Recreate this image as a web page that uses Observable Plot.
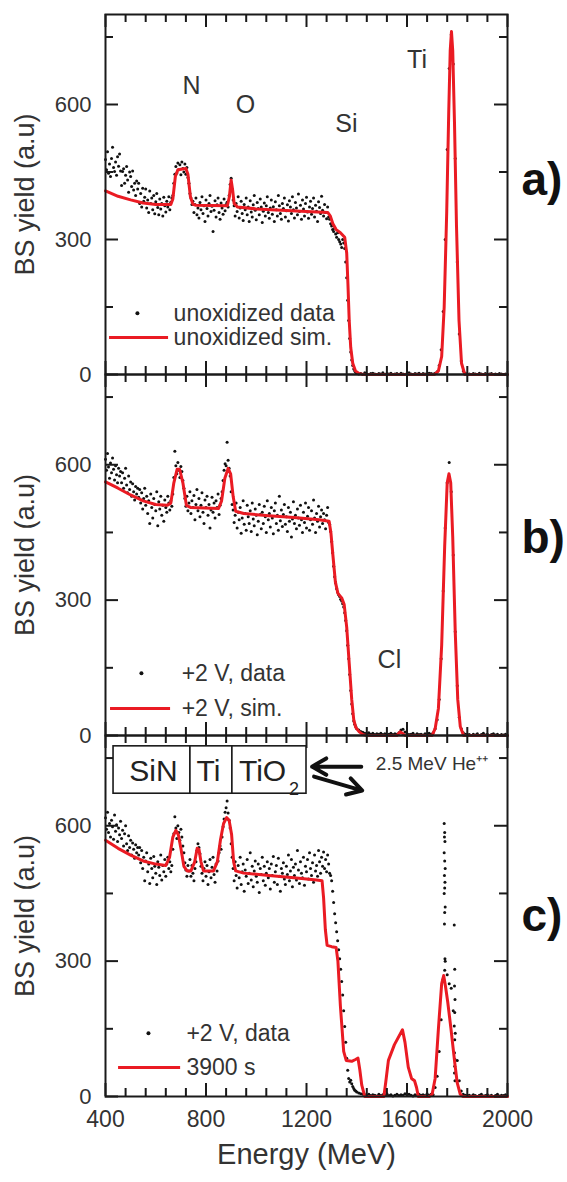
<!DOCTYPE html>
<html><head><meta charset="utf-8">
<script src="https://cdn.jsdelivr.net/npm/d3@7"></script>
<script src="https://cdn.jsdelivr.net/npm/@observablehq/plot@0.6"></script>
<style>
body{margin:0;background:#fff;}
#chart{width:567px;}
#chart svg{display:block;}
</style></head><body><div id="chart"></div>
<script>
// channel energies (MeV): 4 MeV channels up to 1400, 8 MeV channels above
const energy = d3.range(400, 1400, 4).concat(d3.range(1400, 2000, 8));

// panel a: unoxidized data
const dataA = [
478,455,495,447,468,440,480,505,460,451,472,443,484,463,490,452,
420,451,457,425,443,462,432,405,450,440,418,452,410,425,398,430,412,
425,380,402,372,414,385,394,412,370,388,360,408,380,392,366,398,357,384,402,371,355,390,368,380,352,394,375,361,385,372,395,366,383,392,
398,425,445,
462,448,470,455,466,444,472,458,450,468,445,460,438,
425,402,392,378,
385,360,378,392,355,370,348,382,366,395,358,375,340,388,369,352,380,398,362,374,318,365,386,350,377,392,360,345,381,370,356,390,364,378,383,372,
398,422,436,412,388,
375,352,380,362,395,348,370,385,358,342,378,366,392,355,372,340,386,361,350,377,
398,365,344,382,369,355,390,372,338,363,381,352,375,395,360,347,370,388,356,373,
340,384,366,352,398,375,358,345,380,369,392,350,364,377,341,386,372,358,395,366,
348,382,370,355,401,362,376,345,388,368,352,380,394,361,347,372,385,356,369,392,
350,376,363,340,384,371,358,396,365,352,378,360,346,372,
350,345,335,330,322,318,325,312,305,315,300,295,290,282,
300,292,280,250,215,165,120,80,50,32,20,12,8,5,
3,1,2,0,4,1,0,2,3,1,0,2,1,4,0,2,1,3,0,1,2,0,3,1,0,2,4,1,0,2,1,3,0,2,1,0,3,2,1,
3,6,20,55,140,300,500,680,755,690,480,250,90,30,8,3,1,
1,0,2,1,0,3,1,0,2,0,1,2,0,1,0,2,1,0,1];

// panel b: +2 V data
const dataB = [
612,588,625,595,570,604,582,615,590,566,598,578,560,592,575,585,
560,582,548,570,592,555,538,575,545,562,530,558,540,522,552,535,548,
528,545,515,538,502,525,548,510,530,492,520,470,535,505,482,525,512,498,540,465,518,502,530,488,510,475,522,505,495,530,515,500,520,508,
535,572,630,
598,580,605,588,572,596,585,565,
548,525,508,530,498,
515,540,492,520,505,532,478,512,545,498,525,485,510,538,495,470,522,505,530,488,512,460,500,528,495,515,482,520,505,535,490,510,525,
540,565,588,602,598,650,610,592,575,540,512,
500,472,488,515,460,495,478,505,448,482,520,468,492,455,510,485,470,498,452,515,480,465,502,488,445,475,512,490,458,495,
470,508,485,450,520,478,492,462,505,482,447,498,515,470,488,455,530,476,500,463,
490,512,468,485,452,505,475,495,440,480,518,470,488,458,502,482,466,510,478,450,
495,472,515,460,486,505,455,478,498,468,522,482,450,492,475,508,462,485,500,470,
492,478,458,488,505,472,
468,452,430,405,375,352,338,325,318,312,308,302,298,292,285,272,255,232,200,170,135,100,70,48,32,25,20,
15,12,9,7,5,4,6,3,5,2,4,3,5,2,4,1,3,5,2,4,3,6,12,14,8,4,2,3,5,1,4,2,3,1,4,2,5,3,6,
15,35,80,170,320,460,560,605,540,400,230,110,40,15,6,3,2,
2,0,3,1,4,0,2,5,1,3,0,2,4,1,3,0,2,1,3];

// panel c: +2 V data
const dataC = [
618,592,630,585,605,575,612,598,570,624,588,602,565,595,580,610,
572,590,555,582,600,560,545,578,552,568,535,562,548,528,558,540,552,
535,552,518,545,505,530,478,522,540,498,515,472,528,505,485,532,510,495,470,520,508,490,535,480,512,498,525,488,515,530,505,520,498,512,
548,582,620,
595,572,600,585,568,592,575,555,
540,518,502,488,512,
500,525,488,512,495,478,505,520,545,560,552,538,510,495,478,505,520,488,512,470,498,525,485,508,530,492,475,515,500,522,540,555,548,
575,598,615,630,640,655,628,612,595,560,530,
505,478,520,490,462,512,485,530,470,498,515,455,502,488,525,472,495,540,480,510,
465,500,522,488,475,515,452,505,492,530,478,510,468,495,520,485,505,460,515,490,
532,475,498,512,470,528,488,455,505,495,518,482,470,510,492,535,478,500,525,465,
508,490,515,480,545,502,472,520,495,485,530,468,510,498,525,482,540,505,490,518,
475,535,500,512,488,545,520,495,530,510,542,505,525,498,535,515,
495,490,478,455,430,405,385,365,345,325,305,282,255,225,190,155,120,85,58,40,32,36,28,22,18,14,12,
10,8,6,5,4,3,5,2,4,3,1,5,2,4,3,6,2,4,1,3,5,2,4,3,6,2,5,3,1,4,2,5,3,4,2,6,3,5,4,
20,45,100,170,260,300,270,250,240,190,140,80,35,12,5,3,2,
3,1,4,2,0,3,5,1,2,4,1,3,0,2,5,1,3,2,4];
// additional counts recorded in the Ti region of panel c
const tiClusterE = [1748,1750,1749,1751,1748,1750,1752,1749,1751,1750,1748,1752,1750,1749,1751,1750,1788,1790,1789,1791,1790,1788,1790,1789,1791,1790,1789,1791];
const tiClusterY = [605,585,575,565,540,522,505,490,475,462,450,420,408,382,305,280,380,282,245,215,186,156,126,97,82,67,52,35];

// simulations (vertices)
const simAE = [400,450,500,550,600,660,668,678,688,720,728,738,748,760,885,893,900,906,912,925,1000,1100,1200,1285,1295,1305,1318,1335,1352,1360,1365,1370,1376,1384,1395,1410,1428,1710,1725,1738,1748,1758,1766,1772,1777,1782,1789,1797,1807,1817,1830,2000];
const simAY = [408,396,388,381,378,378,390,440,455,458,445,395,378,376,375,395,432,410,380,372,368,365,362,360,352,335,322,315,305,270,200,120,60,25,8,2,0,0,8,40,150,360,580,720,762,720,560,330,120,25,0,0];
const simBE = [400,450,500,550,600,645,660,672,685,695,708,722,740,850,862,875,888,898,908,918,950,1050,1150,1250,1290,1297,1305,1315,1325,1340,1350,1360,1370,1380,1388,1396,1410,1425,1440,1560,1572,1582,1592,1700,1712,1725,1738,1750,1760,1767,1774,1782,1792,1802,1812,1825,2000];
const simBY = [562,548,533,520,512,510,515,560,590,590,560,510,505,503,520,570,592,580,530,497,492,487,483,478,475,450,400,340,315,305,290,240,160,80,35,18,8,2,0,0,8,5,0,0,15,60,200,420,560,580,560,440,230,80,20,0,0];
const simCE = [400,450,500,550,600,640,655,668,680,690,700,712,725,740,755,765,772,780,790,830,845,858,870,882,892,902,910,918,950,1050,1150,1240,1262,1268,1275,1282,1300,1318,1325,1335,1348,1358,1380,1395,1405,1412,1420,1432,1508,1515,1526,1550,1582,1592,1605,1618,1630,1638,1645,1690,1700,1712,1725,1738,1746,1753,1762,1775,1790,1800,1812,1822,2000];
const simCY = [568,550,535,522,515,512,530,575,590,580,550,510,500,500,520,550,548,520,500,500,520,570,605,618,612,580,520,500,495,490,485,480,478,440,370,335,332,330,300,200,100,80,78,82,85,60,25,0,0,30,80,115,148,120,65,40,35,20,0,0,5,40,150,250,268,245,210,150,75,30,5,0,0];

// ticks
const xMajor = [400, 800, 1200, 1600, 2000];
const xMinor = [480, 560, 640, 720, 880, 960, 1040, 1120, 1280, 1360, 1440, 1520, 1680, 1760, 1840, 1920];
const yMajor = [0, 300, 600];
const yMinor = [150, 450, 750];

// labels
const elemA = [{t:"N", e:742, y:642}, {t:"O", e:957, y:598}, {t:"Si", e:1359, y:556}, {t:"Ti", e:1640, y:698}];
const elemB = [{t:"Cl", e:1530, y:167}];
const legendA = {dot:"unoxidized data", line:"unoxidized sim.", dotE:527, dotY:136, lineE1:416, lineE2:651, lineY:82, textE:671};
const legendB = {dot:"+2 V, data", line:"+2 V, sim.", dotE:543, dotY:138, lineE1:420, lineE2:659, lineY:60, textE:703};
const legendC = {dot:"+2 V, data", line:"3900 s", dotE:571, dotY:140, lineE1:452, lineE2:699, lineY:64, textE:722};
const boxCells = [{x1:432, x2:738}, {x1:738, x2:905}, {x1:905, x2:1200}];
const boxTexts = [{t:"SiN", e:591, y:720, s:30}, {t:"Ti", e:810, y:720, s:30}, {t:"TiO", e:1025, y:720, s:30}, {t:"2", e:1150, y:681, s:18}];
const arrows = [{x1:1418, y1:731, x2:1222, y2:731}, {x1:1230, y1:709, x2:1422, y2:678}];

const RED = "#ea1b23";
const INK = "#1a1a1a";
const FONT = "'Liberation Sans', Arial, Helvetica, sans-serif";
const FRAME_W = 402;

function panel(o) {
  const innerH = o.height - o.marginTop - o.marginBottom;
  const yPer = 800 / innerH, xPer = 1600 / FRAME_W; // data units per pixel
  const pts = energy.map((e, i) => ({e, y: o.data[i]}));
  const sim = o.simE.map((e, i) => ({e, y: o.simY[i]}));
  const lg = o.legend;
  const tk = {stroke: INK, strokeWidth: 2};
  const MAJ = 13, MIN = 8;
  const marks = [Plot.dot(pts, {x: "e", y: "y", r: 1.5, fill: "#111"})];
  if (o.extraE) marks.push(Plot.dot(o.extraE.map((e, i) => ({e, y: o.extraY[i]})), {x: "e", y: "y", r: 1.5, fill: "#111"}));
  marks.push(
    Plot.line(sim, {x: "e", y: "y", stroke: RED, strokeWidth: 3}),
    Plot.frame({stroke: INK, strokeWidth: 2}),
    // inward ticks on all four sides
    Plot.ruleX(xMajor, {y1: 0, y2: MAJ * yPer, ...tk}),
    Plot.ruleX(xMinor, {y1: 0, y2: MIN * yPer, ...tk}),
    Plot.ruleX(xMajor, {y1: 800, y2: 800 - MAJ * yPer, ...tk}),
    Plot.ruleX(xMinor, {y1: 800, y2: 800 - MIN * yPer, ...tk}),
    Plot.ruleY(yMajor, {x1: 400, x2: 400 + MAJ * xPer, ...tk}),
    Plot.ruleY(yMinor, {x1: 400, x2: 400 + MIN * xPer, ...tk}),
    Plot.ruleY(yMajor, {x1: 2000, x2: 2000 - MAJ * xPer, ...tk}),
    Plot.ruleY(yMinor, {x1: 2000, x2: 2000 - MIN * xPer, ...tk}),
    Plot.axisY(yMajor, {anchor: "left", tickSize: 0, tickPadding: 14, fontSize: 22, tickFormat: d => String(d)}),
    Plot.text(["BS yield (a.u)"], {frameAnchor: "left", dx: -80, rotate: -90, textAnchor: "middle", fontSize: 27, fill: "#333"}),
    Plot.text([o.label], {frameAnchor: "right", dx: 14, dy: o.labelDy, textAnchor: "start", fontSize: 46, fontWeight: "bold", fill: "#111"}),
    // legend
    Plot.dot([lg], {x: "dotE", y: "dotY", r: 2, fill: "#111"}),
    Plot.ruleY([lg], {y: "lineY", x1: "lineE1", x2: "lineE2", stroke: RED, strokeWidth: 3}),
    Plot.text([lg], {x: "textE", y: "dotY", text: "dot", textAnchor: "start", fontSize: 23, fill: "#333"}),
    Plot.text([lg], {x: "textE", y: "lineY", text: "line", textAnchor: "start", fontSize: 23, fill: "#333"})
  );
  if (o.elems) marks.push(Plot.text(o.elems, {x: "e", y: "y", text: "t", fontSize: 25, fill: "#333"}));
  if (o.extra) marks.push(...o.extra);
  return Plot.plot({
    width: 567, height: o.height,
    marginLeft: 105, marginRight: 60, marginTop: o.marginTop, marginBottom: o.marginBottom,
    x: {domain: [400, 2000], axis: null},
    y: {domain: [0, 800], axis: null},
    style: {fontFamily: FONT, color: "#333", background: "#fff", overflow: "visible"},
    marks
  });
}

const chart = document.getElementById("chart");
chart.append(panel({data: dataA, simE: simAE, simY: simAY, height: 374, marginTop: 14, marginBottom: 0,
  label: "a)", labelDy: -14, legend: legendA, elems: elemA}));
chart.append(panel({data: dataB, simE: simBE, simY: simBY, height: 361, marginTop: 0, marginBottom: 0,
  label: "b)", labelDy: -17, legend: legendB, elems: elemB}));
chart.append(panel({data: dataC, simE: simCE, simY: simCY, extraE: tiClusterE, extraY: tiClusterY,
  height: 447, marginTop: 0, marginBottom: 86, label: "c)", labelDy: 0, legend: legendC,
  extra: [
    Plot.rect(boxCells, {x1: "x1", x2: "x2", y1: 671, y2: 776, fill: "#fff", stroke: INK, strokeWidth: 1.6}),
    Plot.text(boxTexts, {x: "e", y: "y", text: "t", fontSize: d => d.s, fill: "#222"}),
    Plot.arrow(arrows, {x1: "x1", y1: "y1", x2: "x2", y2: "y2", stroke: "#111", strokeWidth: 4, headLength: 12}),
    Plot.text(["2.5 MeV He⁺⁺"], {x: 1476, y: 736, textAnchor: "start", fontSize: 19, fill: "#333"}),
    Plot.axisX(xMajor, {anchor: "bottom", tickSize: 0, tickPadding: 14, fontSize: 23, tickFormat: d => String(d)}),
    Plot.text(["Energy (MeV)"], {frameAnchor: "bottom", dy: 67, fontSize: 29, fill: "#333"})
  ]}));
</script></body></html>
